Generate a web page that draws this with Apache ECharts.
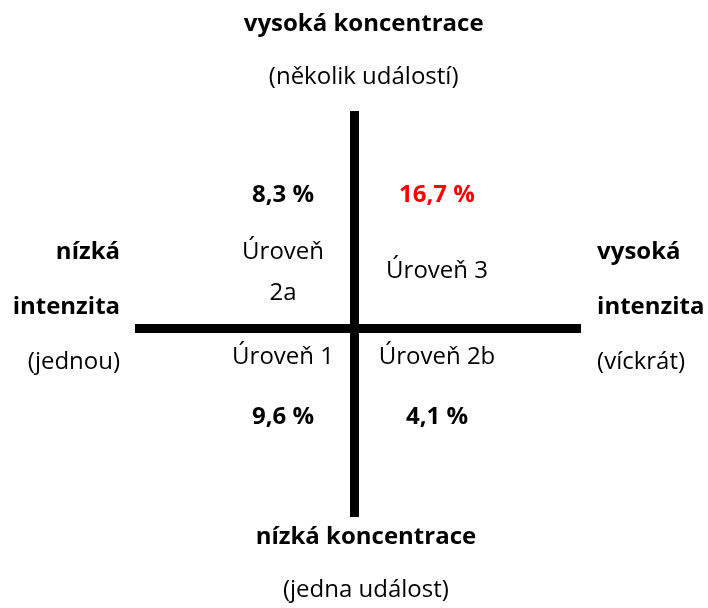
<!DOCTYPE html>
<html lang="cs">
<head>
    <meta charset="UTF-8">
    <title>Úrovně</title>
    <script src="https://cdn.jsdelivr.net/npm/echarts@6/dist/echarts.min.js"></script>
    <style>
        html, body { margin: 0; padding: 0; background: #fff; }
        #main { width: 708px; height: 608px; }
    </style>
</head>
<body>
    <div id="main"></div>
    <script type="text/javascript">
        // data
        const quadrantLevels = ['Úroveň\n2a', 'Úroveň 3', 'Úroveň 1', 'Úroveň 2b'];
        const quadrantShares = [8.3, 16.7, 9.6, 4.1];
        const concentrationTop = ['vysoká koncentrace', '(několik událostí)'];
        const concentrationBottom = ['nízká koncentrace', '(jedna událost)'];
        const intensityLeft = ['nízká', 'intenzita', '(jednou)'];
        const intensityRight = ['vysoká', 'intenzita', '(víckrát)'];

        // layout (axis units, cross centre = 0,0)
        const colX = [-0.316, 0.364, -0.316, 0.364];
        const shareY = [0.613, 0.613, -0.409, -0.409];
        const levelY = [0.256, 0.263, -0.133, -0.133];

        const FONT = '"Open Sans", "Noto Sans", sans-serif';
        const SIZE = 24;
        const maxShare = Math.max.apply(null, quadrantShares);
        const fmt = v => v.toFixed(1).replace('.', ',') + ' %';

        const noBorder = { textBorderWidth: 0, textBorderColor: 'transparent', textShadowBlur: 0 };
        const rich = {
            b: Object.assign({ fontFamily: FONT, fontSize: SIZE, fontWeight: 'bold', color: '#000', lineHeight: 53 }, noBorder),
            n: Object.assign({ fontFamily: FONT, fontSize: SIZE, color: '#000', lineHeight: 53 }, noBorder),
            bs: Object.assign({ fontFamily: FONT, fontSize: SIZE, fontWeight: 'bold', color: '#000', lineHeight: 55 }, noBorder),
            ns: Object.assign({ fontFamily: FONT, fontSize: SIZE, color: '#000', lineHeight: 55 }, noBorder)
        };

        const outer = [
            { value: [0.04, 1.279], text: '{b|' + concentrationTop[0] + '}\n{n|' + concentrationTop[1] + '}', align: 'center' },
            { value: [0.05, -1.087], text: '{b|' + concentrationBottom[0] + '}\n{n|' + concentrationBottom[1] + '}', align: 'center' },
            { value: [-1.036, 0.097], text: '{bs|' + intensityLeft[0] + '}\n{bs|' + intensityLeft[1] + '}\n{ns|' + intensityLeft[2] + '}', align: 'right' },
            { value: [1.071, 0.097], text: '{bs|' + intensityRight[0] + '}\n{bs|' + intensityRight[1] + '}\n{ns|' + intensityRight[2] + '}', align: 'left' }
        ];

        const chart = echarts.init(document.getElementById('main'));
        const hiddenAxis = {
            type: 'value',
            axisLine: { show: true, onZero: true, lineStyle: { color: '#000', width: 9, cap: 'butt' } },
            axisTick: { show: false },
            axisLabel: { show: false },
            splitLine: { show: false }
        };
        const textSeries = data => ({
            type: 'scatter',
            symbolSize: 0,
            clip: false,
            silent: true,
            itemStyle: { opacity: 1 },
            data: data
        });
        option = {
            backgroundColor: '#fff',
            animation: false,
            grid: { left: 135, top: 111, width: 446, height: 406, containLabel: false },
            xAxis: Object.assign({}, hiddenAxis, { min: -0.97, max: 1 }),
            yAxis: Object.assign({}, hiddenAxis, { min: -0.87, max: 1 }),
            series: [
                textSeries(quadrantShares.map((v, i) => ({
                    value: [colX[i], shareY[i]],
                    label: Object.assign({
                        show: true,
                        position: 'inside',
                        formatter: fmt(v),
                        fontFamily: FONT,
                        fontSize: SIZE,
                        fontWeight: 'bold',
                        color: v === maxShare ? '#ff0000' : '#000'
                    }, noBorder)
                }))),
                textSeries(quadrantLevels.map((t, i) => ({
                    value: [colX[i], levelY[i]],
                    label: Object.assign({
                        show: true,
                        position: 'inside',
                        formatter: t,
                        fontFamily: FONT,
                        fontSize: SIZE,
                        lineHeight: 41,
                        align: 'center',
                        color: '#000'
                    }, noBorder)
                }))),
                textSeries(outer.map(o => ({
                    value: o.value,
                    label: {
                        show: true,
                        position: 'inside',
                        formatter: o.text,
                        align: o.align,
                        verticalAlign: 'middle',
                        rich: rich
                    }
                })))
            ]
        };
        chart.setOption(option);
    </script>
</body>
</html>
